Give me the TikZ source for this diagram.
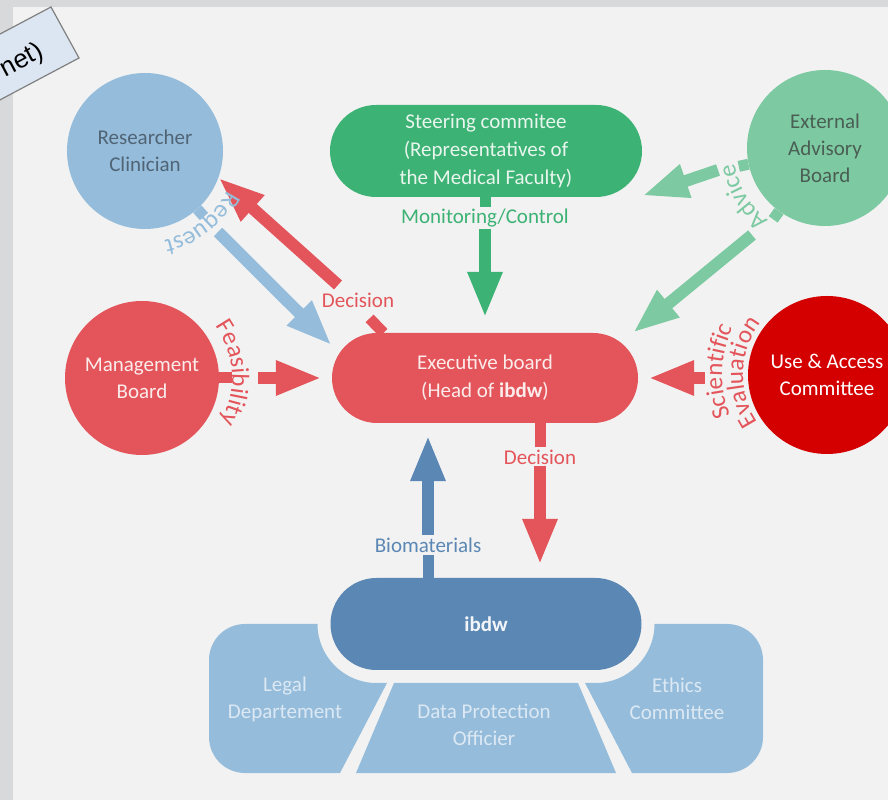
\documentclass[tikz,border=0pt]{standalone}
\usepackage{fontspec}
\setmainfont{Carlito}
\newfontfamily\tagfont{Liberation Sans}
\usetikzlibrary{arrows.meta, decorations.text}
\definecolor{framegray}{HTML}{D8D9DB}
\definecolor{paper}{HTML}{F2F2F2}
\definecolor{resblue}{HTML}{95BDDB}
\definecolor{ibdwblue}{HTML}{5B87B4}
\definecolor{steergreen}{HTML}{3CB274}
\definecolor{extgreen}{HTML}{7DCAA2}
\definecolor{execred}{HTML}{E3555A}
\definecolor{uacred}{HTML}{D40000}
\definecolor{tagblue}{HTML}{DCE6F2}
\definecolor{darkslate}{HTML}{506475}
\definecolor{darkmoss}{HTML}{4A5E54}
\definecolor{sidetext}{HTML}{DCE8F3}

\begin{document}
\begin{tikzpicture}[x=1pt, y=1pt,
  circ/.style={circle, inner sep=0pt, align=center, font=\fontsize{21}{27}\selectfont},
  pill/.style={rounded corners=46pt, minimum height=92pt, inner sep=0pt,
               align=center, font=\fontsize{21}{28}\selectfont},
  lbl/.style={font=\fontsize{21}{21}\selectfont, inner sep=2pt},
  sidetxt/.style={align=center, text=sidetext, font=\fontsize{21}{27}\selectfont},
  tab/.style={line width=11pt},
  bigarrow/.style={line width=12pt, -{Triangle[length=46pt, width=32pt]}},
]

\useasboundingbox (0,0) rectangle (888,800);
\clip (0,0) rectangle (888,800);
\fill[framegray] (0,0) rectangle (888,800);
\fill[paper] (13,0) rectangle (888,793);

\fill[resblue] (340,27) -- (387,117) -- (376.5,117) arc[start angle=270, end angle=180, radius=59]
  -- (245,176) arc[start angle=90, end angle=180, radius=36]
  -- (209,63) arc[start angle=180, end angle=270, radius=36] -- cycle;
\fill[resblue] (632,27) -- (585,117) -- (595.5,117) arc[start angle=270, end angle=360, radius=59]
  -- (727,176) arc[start angle=90, end angle=0, radius=36]
  -- (763,63) arc[start angle=0, end angle=-90, radius=36] -- cycle;
\fill[resblue] (394,117) -- (578,117) -- (616,27) -- (356,27) -- cycle;
\node[sidetxt] (legal) at (285,101) {Legal\\Departement};
\node[sidetxt] (dpo) at (484,75) {Data Protection\\Officier};
\node[sidetxt] (ethics) at (677,101) {Ethics\\Committee};

\node[circ, minimum size=156pt, fill=resblue, text=darkslate] (res) at (145,649) {Researcher\\Clinician};
\node[pill, minimum width=312pt, fill=steergreen, text=white!88!steergreen] (steer) at (486,649)
  {Steering commitee\\(Representatives of\\the Medical Faculty)};
\node[circ, minimum size=156pt, fill=extgreen, text=darkmoss] (ext) at (825,652) {External\\Advisory\\Board};
\node[circ, minimum size=154pt, fill=execred, text=white!88!execred] (mgmt) at (142,422) {Management\\Board};
\node[pill, minimum width=306pt, minimum height=90pt, rounded corners=45pt, fill=execred,
      text=white!88!execred] (exec) at (485,422) {Executive board\\(Head of \textbf{ibdw})};
\node[circ, minimum size=158pt, fill=uacred, text=white] (uac) at (827,425) {Use \& Access\\Committee};
\node[pill, minimum width=311pt, fill=ibdwblue, text=white!92!ibdwblue,
      font=\bfseries\fontsize{21}{28}\selectfont] (ibdw) at (486,176) {ibdw};

\node[lbl, text=steergreen] (mon) at (485,582) {Monitoring/Control};
\draw[tab, steergreen] (steer.south -| mon) -- (mon.north);
\draw[bigarrow, steergreen, shorten >=15pt] (mon) -- (exec);

\node[lbl, text=execred] (dec2) at (540,343) {Decision};
\draw[tab, execred] (exec.south -| dec2) -- (dec2.north);
\draw[bigarrow, execred, shorten >=13pt] (dec2) -- (dec2 |- ibdw.north);

\node[lbl, text=ibdwblue] (bio) at (428,255) {Biomaterials};
\draw[tab, ibdwblue] (ibdw.north -| bio) -- (bio.south);
\draw[bigarrow, ibdwblue, shorten >=12pt] (bio) -- (bio |- exec.south);

\node[lbl, text=execred] (dec1) at (358,500) {Decision};
\coordinate (dec1s) at (338,515);
\draw[tab, execred] (exec.156) -- ++(134:20);
\draw[bigarrow, execred] (dec1s) -- (res.-20);

\coordinate (req) at (218,568);
\draw[tab, resblue] (res.-48) -- ++(-48:10);
\draw[bigarrow, resblue] (req) -- (exec.168);
\path[decorate, decoration={text along path, text align=center,
  text={|\fontsize{25}{25}\selectfont\color{resblue}|Request}}]
  (res.center) ++(-2:91) arc[start angle=-2, end angle=-102, radius=91];

\coordinate (adv1) at (718,630);
\coordinate (adv2) at (752,565);
\draw[tab, extgreen] (ext.192) -- ++(192:10);
\draw[tab, extgreen] (ext.234) -- ++(234:10);
\draw[bigarrow, extgreen] (adv1) -- (steer.-16);
\draw[bigarrow, extgreen] (adv2) -- (exec.17);
\path[decorate, decoration={text along path, text align=center,
  text={|\fontsize{25}{25}\selectfont\color{extgreen}|Advice}}]
  (ext.center) ++(261:92) arc[start angle=261, end angle=161, radius=92];

\coordinate (feas) at (258,422);
\draw[tab, execred] (mgmt.east) -- ++(13,0);
\draw[bigarrow, execred, shorten >=10pt] (feas) -- (exec);
\path[decorate, decoration={text along path, text align=center,
  text={|\fontsize{25}{25}\selectfont\color{execred}|Feasibility}}]
  (mgmt.center) ++(55:90) arc[start angle=55, end angle=-49, radius=90];

\coordinate (sci) at (705,422);
\draw[bigarrow, execred, shorten >=10pt] (sci) -- (exec);
\path[decorate, decoration={text along path, text align=center,
  text={|\fontsize{25}{25}\selectfont\color{execred}|Scientific}}]
  (uac.center) ++(232:105) arc[start angle=232, end angle=124, radius=105];
\path[decorate, decoration={text along path, text align=center,
  text={|\fontsize{25}{25}\selectfont\color{execred}|Evaluation}}]
  (uac.center) ++(232:84) arc[start angle=232, end angle=124, radius=84];

\filldraw[fill=tagblue, draw=gray, line width=1.2pt] (51,793) -- (79,742) -- (-53,672) -- (-81,723) -- cycle;
\node[font=\tagfont\fontsize{26}{26}\selectfont, rotate=28, anchor=east, inner sep=0pt] (tag) at (42,750) {net)};

\end{tikzpicture}
\end{document}
